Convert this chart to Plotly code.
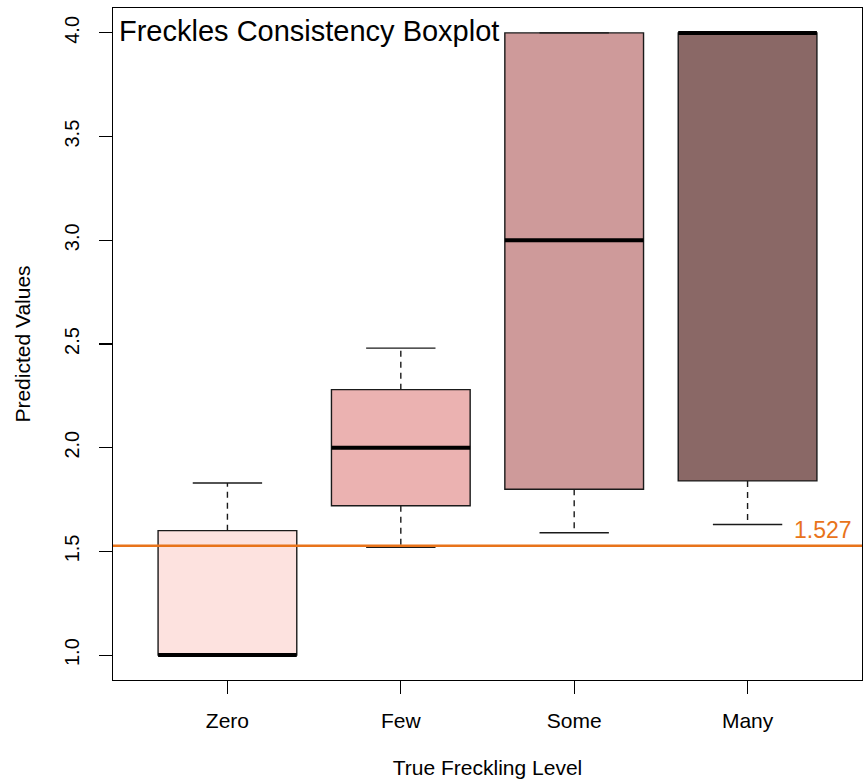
import plotly.graph_objects as go

categories = ["Zero", "Few", "Some", "Many"]
positions = [1, 2, 3, 4]
lower_whisker = [1.00, 1.52, 1.59, 1.63]
q1 = [1.00, 1.72, 1.80, 1.84]
median = [1.00, 2.00, 3.00, 4.00]
q3 = [1.60, 2.28, 4.00, 4.00]
upper_whisker = [1.83, 2.48, 4.00, 4.00]
fill_colors = ["#FDE2DF", "#EBB2B1", "#CE9A9A", "#8A6866"]
ref_value = 1.527
y_ticks = [1.0, 1.5, 2.0, 2.5, 3.0, 3.5, 4.0]

box_width = 0.8
cap_half = box_width / 4
FONT = "Liberation Sans, Arial, Helvetica, sans-serif"

fig = go.Figure()

for i, cat in enumerate(categories):
    fig.add_trace(go.Box(
        x=[positions[i]], q1=[q1[i]], median=[median[i]], q3=[q3[i]],
        lowerfence=[q1[i]], upperfence=[q3[i]],
        width=box_width, fillcolor=fill_colors[i],
        line=dict(color="#1a1a1a", width=1.4),
        name=cat, showlegend=False, hoverinfo="skip", boxpoints=False,
    ))

wx, wy = [], []
cx, cy = [], []
mx, my = [], []
for i in range(len(categories)):
    p = positions[i]
    if upper_whisker[i] > q3[i]:
        wx += [p, p, None]
        wy += [q3[i], upper_whisker[i], None]
    if lower_whisker[i] < q1[i]:
        wx += [p, p, None]
        wy += [q1[i], lower_whisker[i], None]
    cx += [p - cap_half, p + cap_half, None, p - cap_half, p + cap_half, None]
    cy += [upper_whisker[i], upper_whisker[i], None, lower_whisker[i], lower_whisker[i], None]
    mx += [p - box_width / 2, p + box_width / 2, None]
    my += [median[i], median[i], None]

fig.add_trace(go.Scatter(x=wx, y=wy, mode="lines", showlegend=False, hoverinfo="skip",
                         line=dict(color="#1a1a1a", width=1.4, dash="6px,5px")))
fig.add_trace(go.Scatter(x=cx, y=cy, mode="lines", showlegend=False, hoverinfo="skip",
                         line=dict(color="#1a1a1a", width=1.4)))
fig.add_trace(go.Scatter(x=mx, y=my, mode="lines", showlegend=False, hoverinfo="skip",
                         line=dict(color="#000000", width=4)))

fig.add_shape(type="line", xref="paper", x0=0, x1=1, yref="y", y0=ref_value, y1=ref_value,
              line=dict(color="#E8731A", width=2.5), layer="above")
fig.add_annotation(xref="paper", x=1, xanchor="right", xshift=-8,
                   yref="y", y=ref_value, yanchor="bottom", yshift=1,
                   text=f"{ref_value}", showarrow=False,
                   font=dict(family=FONT, size=23, color="#E8731A"))
fig.add_annotation(xref="paper", x=0, xanchor="left", xshift=4,
                   yref="paper", y=1, yanchor="top", yshift=-5,
                   text="Freckles Consistency Boxplot", showarrow=False,
                   font=dict(family=FONT, size=29, color="#000000"))

fig.update_layout(
    width=866, height=783,
    margin=dict(l=113, r=4, t=8, b=103, autoexpand=False),
    paper_bgcolor="white", plot_bgcolor="white",
    font=dict(family=FONT, size=21, color="#000000"),
    showlegend=False,
    hovermode=False,
    xaxis=dict(
        range=[0.34, 4.66], tickmode="array", tickvals=positions, ticktext=categories,
        showgrid=False, zeroline=False, showline=True, mirror=True,
        linecolor="#000000", linewidth=1.2, automargin=False,
        ticks="outside", ticklen=13, tickcolor="#000000", tickwidth=1.2,
        ticklabelstandoff=9,
        tickfont=dict(size=21),
        title=dict(text="True Freckling Level", font=dict(size=21), standoff=28),
    ),
    yaxis=dict(
        range=[0.88, 4.12], tickmode="array", tickvals=y_ticks,
        ticktext=[f"{v:.1f}" for v in y_ticks],
        showgrid=False, zeroline=False, showline=True, mirror=True,
        linecolor="#000000", linewidth=1.2, automargin=False,
        ticks="outside", ticklen=13, tickcolor="#000000", tickwidth=1.2,
        tickangle=-90, ticklabelstandoff=12,
        tickfont=dict(size=20),
        title=dict(text="Predicted Values", font=dict(size=21), standoff=24),
    ),
)

fig.write_html(
    "out.html",
    config={"displayModeBar": False, "staticPlot": True},
    post_script="document.body.style.margin='0';document.body.style.overflow='hidden';",
)
